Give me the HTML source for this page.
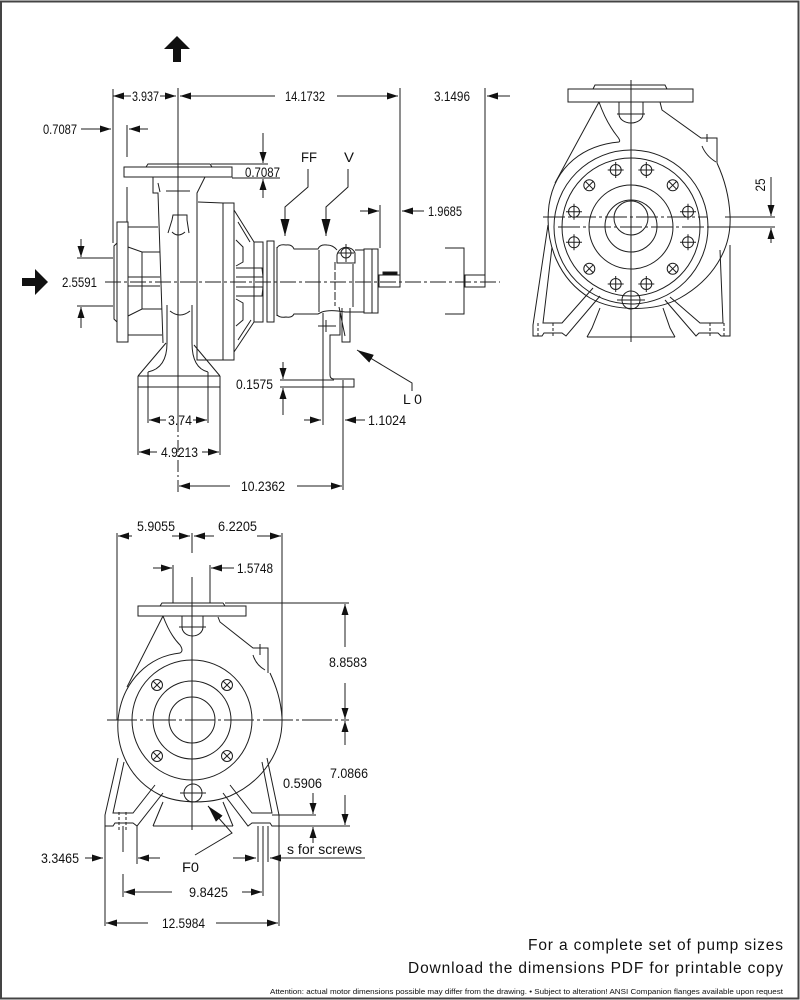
<!DOCTYPE html>
<html><head><meta charset="utf-8">
<style>
html,body{margin:0;padding:0;background:#fff;}
svg{display:block;}
text{font-family:"Liberation Sans",Arial,sans-serif;fill:#111;}
</style></head><body>
<svg width="800" height="1000" viewBox="0 0 800 1000" xmlns="http://www.w3.org/2000/svg">
<defs>
<marker id="a" markerUnits="userSpaceOnUse" markerWidth="11" markerHeight="7" refX="11" refY="3.5" orient="auto"><path d="M0,0 L11,3.5 L0,7 z" fill="#111"/></marker>
<marker id="b" markerUnits="userSpaceOnUse" markerWidth="17" markerHeight="9" refX="17" refY="4.5" orient="auto"><path d="M0,0 L17,4.5 L0,9 z" fill="#111"/></marker>
</defs>
<rect x="1" y="1.5" width="797.5" height="997" fill="none" stroke="#444" stroke-width="2"/>

<g stroke="#1e1e1e" stroke-width="1" fill="none">
<!-- ===== SIDE VIEW ===== -->
<line x1="113" y1="89" x2="113" y2="243"/>
<line x1="178" y1="88" x2="178" y2="420"/>
<line x1="178" y1="420" x2="178" y2="492" stroke-dasharray="12,3,2,3"/>
<line x1="400" y1="88" x2="400" y2="275"/>
<line x1="485" y1="88" x2="485" y2="275"/>
<line x1="127" y1="125" x2="127" y2="157"/>
<line x1="127" y1="187" x2="127" y2="222"/>
<line x1="380" y1="205" x2="380" y2="248"/>
<line x1="105" y1="282" x2="500" y2="282" stroke-dasharray="16,3,3,3"/>
<line x1="131" y1="96" x2="113" y2="96" marker-end="url(#a)"/>
<line x1="160" y1="96" x2="176" y2="96" marker-end="url(#a)"/>
<line x1="275" y1="96" x2="180" y2="96" marker-end="url(#a)"/>
<line x1="337" y1="96" x2="398" y2="96" marker-end="url(#a)"/>
<line x1="510" y1="96" x2="487" y2="96" marker-end="url(#a)"/>
<line x1="81" y1="129" x2="111" y2="129" marker-end="url(#a)"/>
<line x1="148" y1="129" x2="129" y2="129" marker-end="url(#a)"/>
<line x1="263" y1="133" x2="263" y2="163" marker-end="url(#a)"/>
<line x1="263" y1="198" x2="263" y2="179" marker-end="url(#a)"/>
<line x1="211" y1="164" x2="268" y2="164"/>
<line x1="232" y1="178" x2="280" y2="178"/>
<line x1="360" y1="211" x2="379" y2="211" marker-end="url(#a)"/>
<line x1="424" y1="211" x2="402" y2="211" marker-end="url(#a)"/>
<line x1="77" y1="258" x2="113" y2="258"/>
<line x1="77" y1="306" x2="113" y2="306"/>
<line x1="81" y1="239" x2="81" y2="257" marker-end="url(#a)"/>
<line x1="81" y1="328" x2="81" y2="307" marker-end="url(#a)"/>
<polyline points="308,169 308,187 285,207 285,236" marker-end="url(#b)"/>
<polyline points="348,169 348,187 326,207 326,236" marker-end="url(#b)"/>

<rect x="117" y="222" width="11" height="120"/>
<path d="M117,243 L114,246 L114,319 L117,322"/>
<path d="M128,227 H158"/>
<path d="M128,247 L142,252 H160"/>
<path d="M142,252 V309"/>
<path d="M128,277 H160 M128,286 H160"/>
<path d="M128,316 L142,309 H162"/>
<path d="M128,335 H162"/>
<rect x="124" y="167" width="108" height="10"/>
<path d="M146,167 L148,164 H210 L212,167"/>
<path d="M153,177 V193 H158 L163,343"/>
<path d="M205,177 L197,193 V360 H223"/>
<path d="M198,202 L223,203"/>
<rect x="223" y="203" width="11" height="157"/>
<path d="M166,191 H190"/>
<path d="M158,183 L160,192"/>
<path d="M168,233 L172,220 L173,215 H187 L187,220 L189,233 M172,232 Q178,238 185,232"/>
<path d="M167,305 V343 M192,305 V343 M170,311 Q180,319 190,311"/>
<path d="M138,376 L166,343 M220,376 L194,345"/>
<path d="M167,343 Q167,368 148,372 M192,343 Q192,368 208,372"/>
<path d="M138,376 H220 M138,387 H220 M138,376 V387 M220,376 V387"/>
<line x1="148" y1="372" x2="148" y2="423"/>
<line x1="208" y1="372" x2="208" y2="423"/>
<line x1="138" y1="387" x2="138" y2="455"/>
<line x1="220" y1="387" x2="220" y2="455"/>
<path d="M234,210 L254,242 M234,352 L254,322"/>
<path d="M238,222 L250,242 M238,340 L251,320"/>
<path d="M236,240 L243,247 V262 L236,266"/>
<path d="M236,268 H262 L263,277 H236"/>
<path d="M236,287 H263 L262,296 H236"/>
<path d="M236,299 L243,303 V320 L236,326"/>
<rect x="254" y="242" width="9" height="80"/>
<rect x="267" y="241" width="7" height="81"/>
<path d="M277,247 V316"/>
<path d="M277,248 Q279,244 286,245 Q292,244 294,249 H318 Q320,244 327,245 Q333,245 337,250"/>
<path d="M277,315 Q280,318 286,317 Q292,318 294,314 H318 L322,312 Q328,310 338,311 L345,312 H364"/>
<path d="M355,250 H364"/>
<line x1="319" y1="250" x2="319" y2="312"/>
<line x1="335" y1="262" x2="335" y2="306" stroke-dasharray="8,2"/>
<line x1="353" y1="264" x2="353" y2="307"/>
<circle cx="346" cy="253" r="5"/>
<path d="M337,263 V255 A9.5,9.5 0 0 1 355,253 V263 Z"/>
<path d="M338,253 H354 M346,244 V262"/>
<rect x="364" y="249" width="14" height="64"/>
<line x1="372" y1="249" x2="372" y2="313"/>
<rect x="379" y="275" width="21" height="12"/>
<rect x="383" y="272" width="14" height="3" fill="#111"/>
<path d="M445,248 H464 V314 H445"/>
<rect x="465" y="275" width="20" height="12"/>
<path d="M323,313 V387 H354 V379 H334 Q330,379 330,375 V335 H340 V313"/>
<path d="M318,326 H336 M326,320 V332"/>
<path d="M342,308 V342 H350 V308 M339,307 L345,336"/>
<line x1="283" y1="362" x2="283" y2="379" marker-end="url(#a)"/>
<line x1="283" y1="415" x2="283" y2="388" marker-end="url(#a)"/>
<path d="M280,380 H334 M280,387 H323"/>
<line x1="323" y1="387" x2="323" y2="425"/>
<line x1="343" y1="380" x2="343" y2="490"/>
<line x1="304" y1="420" x2="321" y2="420" marker-end="url(#a)"/>
<line x1="365" y1="420" x2="345" y2="420" marker-end="url(#a)"/>
<polyline points="412,391 412,383 357,350" marker-end="url(#b)"/>
<line x1="166" y1="420" x2="149" y2="420" marker-end="url(#a)"/>
<line x1="193" y1="420" x2="207" y2="420" marker-end="url(#a)"/>
<line x1="157" y1="452" x2="139" y2="452" marker-end="url(#a)"/>
<line x1="202" y1="452" x2="219" y2="452" marker-end="url(#a)"/>
<line x1="230" y1="486" x2="179" y2="486" marker-end="url(#a)"/>
<line x1="297" y1="486" x2="342" y2="486" marker-end="url(#a)"/>

<!-- ===== FRONT VIEW (top right) ===== -->
<rect x="568" y="89" width="125" height="13"/>
<path d="M593,89 L595,85 H665 L667,89"/>
<line x1="631" y1="80" x2="631" y2="342"/>
<path d="M619,102 V114 A12,9 0 0 0 643,114 V102"/>
<line x1="617" y1="114" x2="645" y2="114"/>
<path d="M599,102 L555,183"/>
<path d="M599,102 Q606,122 617,136 Q621,141 619,142"/>
<path d="M619,142 C585,145 555,165 549,205 C544,245 560,280 590,298 C615,312 655,312 680,298 C712,280 732,250 730,215 C729,195 724,178 717,163"/>
<path d="M660,102 L662,110 L701,138 H717 V163"/>
<line x1="707" y1="134" x2="707" y2="142"/>
<path d="M702,146 Q706,156 716,162"/>
<circle cx="631" cy="227" r="77"/>
<circle cx="631" cy="227" r="69"/>
<circle cx="631" cy="227" r="42"/>
<circle cx="631" cy="226" r="26"/>
<circle cx="631" cy="218" r="17"/>
<circle cx="631" cy="300" r="9"/>
<line x1="617" y1="300" x2="645" y2="300"/>
<line x1="543" y1="217" x2="707" y2="217" stroke-dasharray="22,3,3,3"/>
<line x1="725" y1="217" x2="775" y2="217"/>
<line x1="558" y1="227" x2="707" y2="227" stroke-dasharray="22,3,3,3"/>
<line x1="707" y1="227" x2="775" y2="227"/>
<line x1="771" y1="177" x2="771" y2="216" marker-end="url(#a)"/>
<line x1="771" y1="243" x2="771" y2="228" marker-end="url(#a)"/>
<g>
<circle cx="688" cy="211.7" r="5.5"/><path d="M680,211.7 H696 M688,203.7 V219.7"/>
<circle cx="672.7" cy="185.3" r="5.5"/><path d="M668.8,181.4 L676.6,189.2 M676.6,181.4 L668.8,189.2"/>
<circle cx="646.3" cy="170" r="5.5"/><path d="M638.3,170 H654.3 M646.3,162 V178"/>
<circle cx="615.7" cy="170" r="5.5"/><path d="M607.7,170 H623.7 M615.7,162 V178"/>
<circle cx="589.3" cy="185.3" r="5.5"/><path d="M585.4,181.4 L593.2,189.2 M593.2,181.4 L585.4,189.2"/>
<circle cx="574" cy="211.7" r="5.5"/><path d="M566,211.7 H582 M574,203.7 V219.7"/>
<circle cx="574" cy="242.3" r="5.5"/><path d="M566,242.3 H582 M574,234.3 V250.3"/>
<circle cx="589.3" cy="268.7" r="5.5"/><path d="M585.4,264.8 L593.2,272.6 M593.2,264.8 L585.4,272.6"/>
<circle cx="615.7" cy="284" r="5.5"/><path d="M607.7,284 H623.7 M615.7,276 V292"/>
<circle cx="646.3" cy="284" r="5.5"/><path d="M638.3,284 H654.3 M646.3,276 V292"/>
<circle cx="672.7" cy="268.7" r="5.5"/><path d="M668.8,264.8 L676.6,272.6 M676.6,264.8 L668.8,272.6"/>
<circle cx="688" cy="242.3" r="5.5"/><path d="M680,242.3 H696 M688,234.3 V250.3"/>
</g>
<path d="M548,225 L533,325 V336 H542 L544,333 H562 L566,336 L600,296"/>
<path d="M552,247 L543,323 H562 L593,288"/>
<path d="M587,337 L592,328 L600,308 M675,337 L670,328 L663,308 M587,337 H675"/>
<path d="M730,245 V336 H721 L718,333 H699 L696,336 L665,300"/>
<path d="M720,250 L723,323 H700 L670,297"/>
<path d="M538,323 V336 M553,323 V336" stroke-dasharray="3,2"/>
<path d="M710,323 V336 M724,323 V336" stroke-dasharray="3,2"/>

<!-- ===== LOWER FRONT VIEW ===== -->
<line x1="117" y1="533" x2="117" y2="720"/>
<line x1="282" y1="533" x2="282" y2="720"/>
<line x1="192" y1="533" x2="192" y2="553"/>
<line x1="192" y1="577" x2="192" y2="830"/>
<line x1="132" y1="536" x2="118" y2="536" marker-end="url(#a)"/>
<line x1="172" y1="536" x2="190" y2="536" marker-end="url(#a)"/>
<line x1="214" y1="536" x2="194" y2="536" marker-end="url(#a)"/>
<line x1="257" y1="536" x2="281" y2="536" marker-end="url(#a)"/>
<line x1="153" y1="568" x2="172" y2="568" marker-end="url(#a)"/>
<line x1="173" y1="565" x2="173" y2="603"/>
<line x1="210" y1="565" x2="210" y2="603"/>
<line x1="234" y1="568" x2="211" y2="568" marker-end="url(#a)"/>
<rect x="138" y="606" width="108" height="10"/>
<path d="M160,606 L162,603 H223 L225,606"/>
<line x1="225" y1="603" x2="349" y2="603"/>
<line x1="345" y1="647" x2="345" y2="604" marker-end="url(#a)"/>
<line x1="345" y1="683" x2="345" y2="719" marker-end="url(#a)"/>
<line x1="107" y1="720" x2="349" y2="720" stroke-dasharray="30,3,3,3"/>
<line x1="345" y1="745" x2="345" y2="721" marker-end="url(#a)"/>
<line x1="345" y1="795" x2="345" y2="825" marker-end="url(#a)"/>
<line x1="313" y1="793" x2="313" y2="814" marker-end="url(#a)"/>
<line x1="313" y1="843" x2="313" y2="827" marker-end="url(#a)"/>
<line x1="272" y1="815" x2="316" y2="815"/>
<line x1="279" y1="826" x2="350" y2="826"/>
<path d="M182,616 V627 A10.5,9 0 0 0 203,627 V616"/>
<line x1="179" y1="627" x2="206" y2="627"/>
<path d="M163,616 L127,687"/>
<path d="M163,616 Q170,635 180,645 Q184,651 180,653"/>
<path d="M180,653 C150,656 122,680 118,720 C116,750 130,780 160,795 C180,804 210,804 230,796 C262,782 283,752 282,718 C281,700 276,686 270,673"/>
<path d="M218,617 L220,622 L253,648 H268 V673"/>
<line x1="260" y1="644" x2="260" y2="655"/>
<path d="M253,655 Q256,665 265,670"/>
<circle cx="192" cy="720" r="60"/>
<circle cx="192" cy="720" r="39"/>
<circle cx="192" cy="720" r="23"/>
<circle cx="157" cy="685" r="5.5"/><path d="M153.1,681.1 L160.9,688.9 M160.9,681.1 L153.1,688.9"/>
<circle cx="227" cy="685" r="5.5"/><path d="M223.1,681.1 L230.9,688.9 M230.9,681.1 L223.1,688.9"/>
<circle cx="157" cy="756" r="5.5"/><path d="M153.1,752.1 L160.9,759.9 M160.9,752.1 L153.1,759.9"/>
<circle cx="227" cy="756" r="5.5"/><path d="M223.1,752.1 L230.9,759.9 M230.9,752.1 L223.1,759.9"/>
<circle cx="193" cy="793" r="9"/>
<line x1="180" y1="793" x2="206" y2="793"/>
<path d="M118,758 L105,815 V826 H113 L115,823 H133 L137,826 L163,793"/>
<path d="M124,762 L113,813 H133 L155,785"/>
<path d="M119,812 V830 M126,812 V830" stroke-dasharray="3,2"/>
<path d="M153,826 L163,802 M233,826 L223,802 M153,826 H233"/>
<path d="M267,758 L279,815 V826 H272 L270,823 H252 L248,826 L223,793"/>
<path d="M262,762 L272,813 H252 L230,785"/>
<line x1="123" y1="826" x2="123" y2="852"/>
<line x1="123" y1="874" x2="123" y2="897"/>
<line x1="137" y1="826" x2="137" y2="864"/>
<line x1="105" y1="826" x2="105" y2="926"/>
<line x1="258" y1="826" x2="258" y2="862"/>
<line x1="263" y1="826" x2="263" y2="896"/>
<line x1="268" y1="826" x2="268" y2="862"/>
<line x1="279" y1="826" x2="279" y2="926"/>
<line x1="85" y1="858" x2="103" y2="858" marker-end="url(#a)"/>
<line x1="160" y1="858" x2="138" y2="858" marker-end="url(#a)"/>
<line x1="233" y1="858" x2="256" y2="858" marker-end="url(#a)"/>
<line x1="285" y1="858" x2="270" y2="858" marker-end="url(#a)"/>
<line x1="270" y1="858" x2="365" y2="858"/>
<polyline points="195,855 232,833 208,806" marker-end="url(#b)"/>
<line x1="172" y1="892" x2="124" y2="892" marker-end="url(#a)"/>
<line x1="242" y1="892" x2="262" y2="892" marker-end="url(#a)"/>
<line x1="148" y1="923" x2="106" y2="923" marker-end="url(#a)"/>
<line x1="216" y1="923" x2="278" y2="923" marker-end="url(#a)"/>
</g>

<polygon points="173,62 173,49 164,49 177,36 190,49 181,49 181,62" fill="#111"/>
<polygon points="22,278 35,278 35,269 48,282 35,295 35,286 22,286" fill="#111"/>

<g font-size="14">
<text x="132" y="101" textLength="27" lengthAdjust="spacingAndGlyphs">3.937</text>
<text x="285" y="101" textLength="40" lengthAdjust="spacingAndGlyphs">14.1732</text>
<text x="434" y="101" textLength="36" lengthAdjust="spacingAndGlyphs">3.1496</text>
<text x="43" y="134" textLength="34" lengthAdjust="spacingAndGlyphs">0.7087</text>
<text x="245" y="177" textLength="35" lengthAdjust="spacingAndGlyphs">0.7087</text>
<text x="428" y="216" textLength="34" lengthAdjust="spacingAndGlyphs">1.9685</text>
<text x="62" y="287" textLength="35" lengthAdjust="spacingAndGlyphs">2.5591</text>
<text x="236" y="389" textLength="37" lengthAdjust="spacingAndGlyphs">0.1575</text>
<text x="368" y="425" textLength="38" lengthAdjust="spacingAndGlyphs">1.1024</text>
<text x="168" y="425" textLength="24" lengthAdjust="spacingAndGlyphs">3.74</text>
<text x="161" y="457" textLength="37" lengthAdjust="spacingAndGlyphs">4.9213</text>
<text x="241" y="491" textLength="44" lengthAdjust="spacingAndGlyphs">10.2362</text>
<text x="137" y="531" textLength="38" lengthAdjust="spacingAndGlyphs">5.9055</text>
<text x="218" y="531" textLength="39" lengthAdjust="spacingAndGlyphs">6.2205</text>
<text x="237" y="573" textLength="36" lengthAdjust="spacingAndGlyphs">1.5748</text>
<text x="329" y="667" textLength="38" lengthAdjust="spacingAndGlyphs">8.8583</text>
<text x="330" y="778" textLength="38" lengthAdjust="spacingAndGlyphs">7.0866</text>
<text x="283" y="788" textLength="39" lengthAdjust="spacingAndGlyphs">0.5906</text>
<text x="41" y="863" textLength="38" lengthAdjust="spacingAndGlyphs">3.3465</text>
<text x="287" y="854" textLength="75" lengthAdjust="spacingAndGlyphs">s for screws</text>
<text x="189" y="897" textLength="39" lengthAdjust="spacingAndGlyphs">9.8425</text>
<text x="162" y="928" textLength="43" lengthAdjust="spacingAndGlyphs">12.5984</text>
<text transform="translate(765,185) rotate(-90)" text-anchor="middle" textLength="13" lengthAdjust="spacingAndGlyphs">25</text>
</g>
<g font-size="14">
<text x="301" y="162" textLength="16" lengthAdjust="spacingAndGlyphs">FF</text>
<text x="344" y="162" textLength="10" lengthAdjust="spacingAndGlyphs">V</text>
<text x="403" y="404" textLength="19" lengthAdjust="spacingAndGlyphs">L 0</text>
<text x="182" y="872" textLength="17" lengthAdjust="spacingAndGlyphs">F0</text>
</g>

<text x="528" y="950" font-size="15.5" textLength="255" lengthAdjust="spacing">For a complete set of pump sizes</text>
<text x="408" y="973" font-size="15.5" textLength="375" lengthAdjust="spacing">Download the dimensions PDF for printable copy</text>
<text x="270" y="994" font-size="7.5" textLength="513" lengthAdjust="spacingAndGlyphs">Attention: actual motor dimensions possible may differ from the drawing. • Subject to alteration!  ANSI Companion flanges available upon request</text>
</svg>
</body></html>
